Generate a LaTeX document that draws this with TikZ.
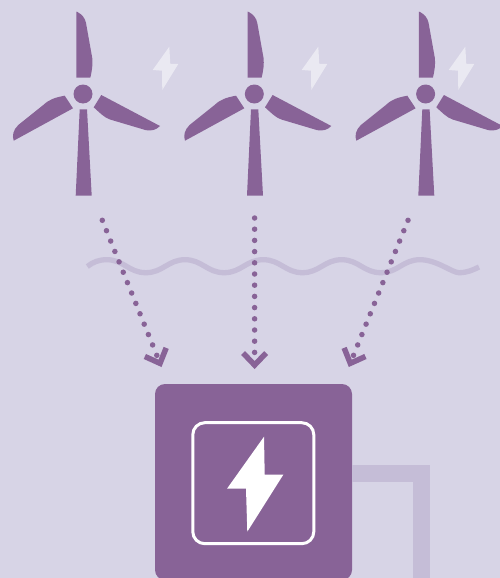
\documentclass[tikz,border=0pt]{standalone}
\usetikzlibrary{arrows.meta}

\definecolor{bgpale}{HTML}{D7D4E6}
\definecolor{windpurple}{HTML}{886397}
\definecolor{linepale}{HTML}{C5BDD7}
\definecolor{boltpale}{HTML}{EAE9F2}

\tikzset{
    dotline/.style={windpurple, line width=5.5pt, line cap=round, dash pattern=on 0pt off 11.2pt,
        -{Straight Barb[length=12pt, width=23pt, line width=5.5pt, line cap=butt]}},
    paleline/.style={linepale, line width=5.3pt},
    station/.style={fill=windpurple, rounded corners=10pt, minimum width=197pt, minimum height=196pt, inner sep=0pt, outer sep=0pt},
    stationicon/.style={draw=white, line width=3pt, rounded corners=12pt, minimum width=121pt, minimum height=121pt, inner sep=0pt, outer sep=0pt},
    turbine/.pic={
        % Blades
        \fill[windpurple] (-6.7,-82.3) -- (-5.5,-82) .. controls (-1,-79.5) and (2,-76) .. (3,-71) -- (9.3,-35.7) .. controls (9.8,-30) and (9.2,-24) .. (7.3,-16.3) -- (-6.7,-16.3) -- cycle;
        \fill[windpurple] (18.3,1) -- (77,32) .. controls (73,36) and (69,37) .. (63,36.2) -- (27,25.5) .. controls (21,23.5) and (16,18) .. (10.7,13.3) -- cycle;
        \fill[windpurple] (-18.3,1.7) -- (-10,14.3) -- (-69.3,46.7) .. controls (-71,42) and (-70,36) .. (-64.7,31) -- (-39.7,11) .. controls (-34,5.5) and (-28,3.5) .. (-18.3,1.7) -- cycle;
        % Tower and hub
        \fill[windpurple] (-3.3,15.3) -- (4,15.3) -- (8.7,101.7) -- (-7.3,101.7) -- cycle;
        \fill[windpurple] (0,0) circle (9.5);
    },
    smallbolt/.pic={
        \fill[boltpale] (4.3,-21.3) -- (5.3,-4) -- (13.3,-4) -- (-2.7,22) -- (-3,2.7) -- (-12.3,2) -- cycle;
    },
}

\begin{document}
\begin{tikzpicture}[x=1pt, y=-1pt]
    \useasboundingbox (0,0) rectangle (500,578);
    \fill[bgpale] (0,0) rectangle (500,578);

    % Turbines and their bolts
    \foreach \hubx/\boltx in {83/165, 254.3/314, 425.6/461} {
        \pic at (\hubx,94) {turbine};
        \pic at (\boltx,68) {smallbolt};
    }

    % Wave
    \draw[paleline] (87.3,266.5) .. controls (93,262) and (99,259.7) .. (106.7,259.7)
        \foreach \n in {1,...,4} {
            .. controls +(17,0) and +(-17,0) .. ++(39.15,13)
            .. controls +(17,0) and +(-17,0) .. ++(39.15,-13)
        }
        .. controls +(17,0) and +(-7,0) .. (459,272.7)
        .. controls +(8,0) and +(-6,3) .. (479,267);

    % Cable and station
    \node[station] (plant) at (253.5,482) {};
    \coordinate (bend) at (421,473.5);
    \coordinate (cableend) at (421,590);
    \draw[linepale, line width=17pt] (plant.east |- bend) -- (bend) -- (cableend);
    \node[stationicon] (icon) at (253.3,483.2) {};
    \fill[white] (264,436.7) -- (264.7,474.7) -- (283.3,474.7) -- (247.3,531.7) -- (246,488.7) -- (227,488.7) -- cycle;

    % Dotted arrows
    \coordinate (startl) at (102.3,220.3);
    \coordinate (startm) at (254.6,218);
    \coordinate (startr) at (408,220.3);
    \coordinate (endl) at (161.5,367);
    \coordinate (endm) at (254.6,369);
    \coordinate (endr) at (348.8,367);
    \draw[dotline] (startl) -- (endl);
    \draw[dotline] (startm) -- (endm);
    \draw[dotline] (startr) -- (endr);
\end{tikzpicture}
\end{document}
